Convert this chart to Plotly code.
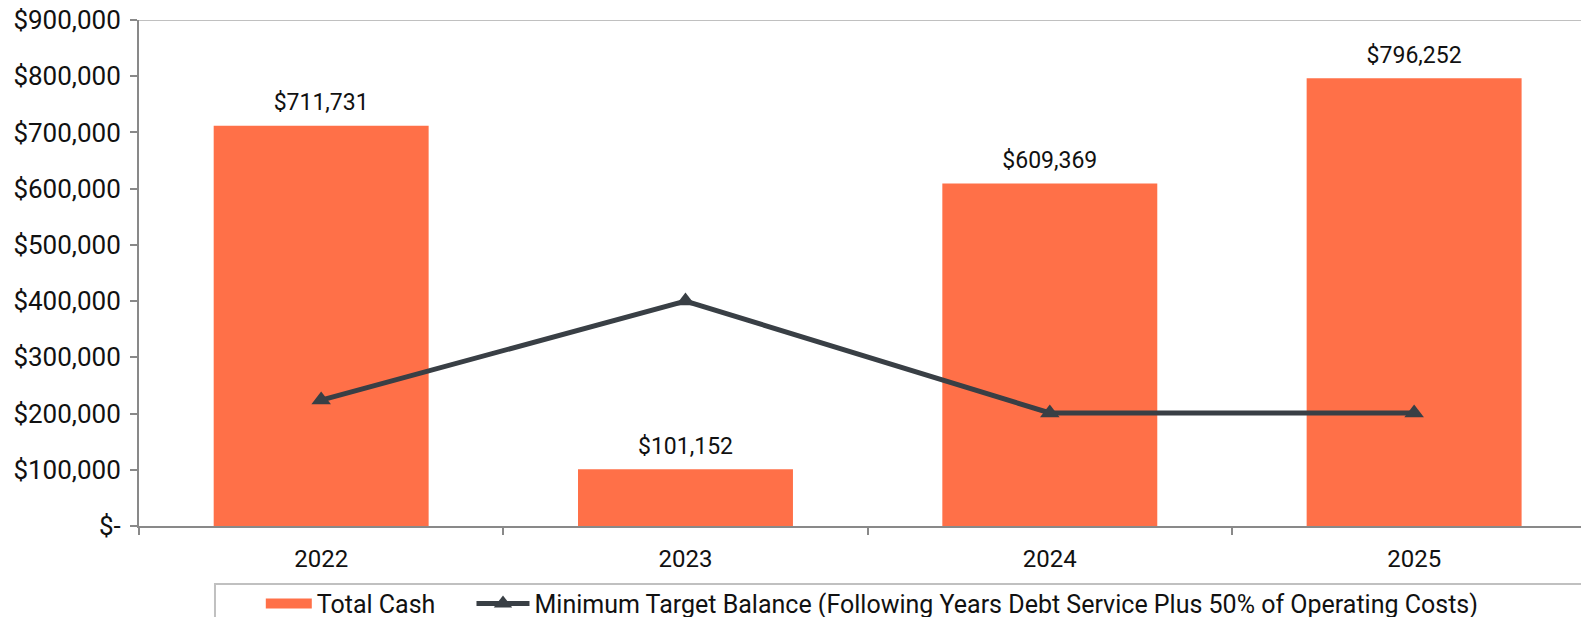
import plotly.graph_objects as go

# Datos
YEARS = ['2022', '2023', '2024', '2025']
TOTAL_CASH = [711731, 101152, 609369, 796252]
MIN_TARGET = [224000, 400000, 201000, 201000]
CASH_LABELS = ['$711,731', '$101,152', '$609,369', '$796,252']
Y_TICKS = [0, 100000, 200000, 300000, 400000, 500000, 600000, 700000, 800000, 900000]
Y_TICK_TEXT = ['$-', '$100,000', '$200,000', '$300,000', '$400,000',
               '$500,000', '$600,000', '$700,000', '$800,000', '$900,000']

FONT = 'Roboto'
ORANGE = '#FF7048'
DARK = '#393F45'
AXIS = '#898989'
TXT = '#111111'

fig = go.Figure()

fig.add_trace(go.Bar(
    x=YEARS, y=TOTAL_CASH,
    name='Total Cash',
    legendgroup='cash', showlegend=False,
    marker=dict(color=ORANGE, line=dict(width=0)),
))
# entrada de leyenda con muestra rectangular ancha (estilo Excel)
fig.add_trace(go.Scatter(
    x=[None], y=[None], mode='lines',
    name='Total Cash', legendgroup='cash', legend='legend',
    line=dict(color=ORANGE, width=13),
))

# etiquetas de valor sobre las barras (marcador invisible para separarlas)
fig.add_trace(go.Scatter(
    x=YEARS, y=TOTAL_CASH, mode='markers+text',
    text=CASH_LABELS, textposition='top center',
    marker=dict(size=14, opacity=0),
    textfont=dict(family=FONT, size=23, color=TXT),
    showlegend=False, hoverinfo='skip', cliponaxis=False,
))

fig.add_trace(go.Scatter(
    x=YEARS, y=MIN_TARGET,
    name='Minimum Target Balance (Following Years Debt Service Plus 50% of Operating Costs)',
    mode='lines+markers', legend='legend2',
    line=dict(color=DARK, width=5),
    marker=dict(symbol='triangle-up', size=17, color=DARK),
))

# línea superior del área del gráfico
fig.add_shape(type='line', xref='paper', yref='y', x0=0, x1=1,
              y0=900000, y1=900000, line=dict(color='#C0C0C0', width=2))
# marco de la leyenda (se sale por la derecha como en el original)
fig.add_shape(type='rect', xref='paper', yref='paper',
              x0=0.0524, x1=1.2, y0=-0.1146, y1=-0.4,
              line=dict(color='#C0C0C0', width=2), fillcolor='rgba(0,0,0,0)')

leg = dict(orientation='h', xanchor='left', y=-0.108, yanchor='top',
           borderwidth=0, bgcolor='rgba(0,0,0,0)',
           font=dict(family=FONT, size=25, color=TXT))

# la página añade 8px de margen al body: se compensa en tamaño y márgenes
fig.update_layout(
    width=1581, height=609,
    margin=dict(l=131, r=0, t=12, b=91, autoexpand=False),
    plot_bgcolor='white', paper_bgcolor='white',
    font=dict(family=FONT, size=24, color=TXT),
    bargap=0.41,
    showlegend=True,
    legend=dict(leg, x=0.084, itemwidth=46),
    legend2=dict(leg, x=0.2293, itemwidth=53),
    xaxis=dict(
        type='category', range=[-0.5, 3.48],
        showline=True, linecolor=AXIS, linewidth=2,
        ticks='outside', tickson='boundaries', ticklen=7,
        tickcolor=AXIS, tickwidth=2, ticklabelstandoff=10,
        tickfont=dict(family=FONT, size=24, color=TXT),
        showgrid=False,
    ),
    yaxis=dict(
        range=[0, 900000],
        tickvals=Y_TICKS, ticktext=Y_TICK_TEXT,
        showline=True, linecolor=AXIS, linewidth=2,
        ticks='outside', ticklen=7, tickcolor=AXIS, tickwidth=2,
        ticklabelstandoff=4, ticklabeloverflow='allow',
        tickfont=dict(family=FONT, size=26, color=TXT),
        showgrid=False, zeroline=False,
    ),
)

fig.write_html("out.html")
